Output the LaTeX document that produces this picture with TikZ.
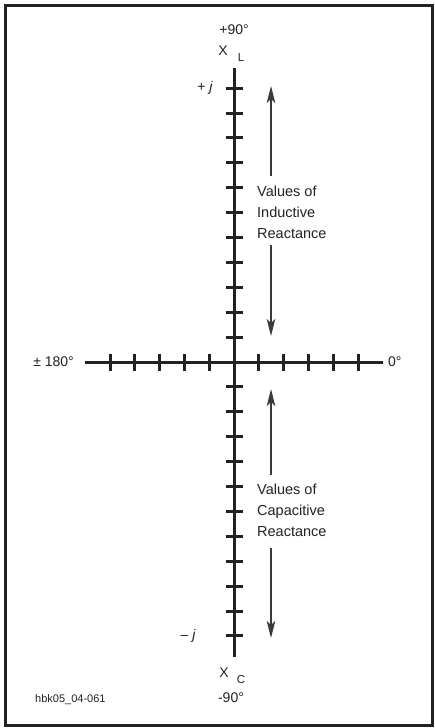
\documentclass[tikz,border=0pt]{standalone}
\usepackage{fontspec}
\setmainfont{Liberation Sans}
\usetikzlibrary{arrows.meta}
\definecolor{axiscol}{HTML}{222222}
\definecolor{arrcol}{HTML}{3A3A3A}
\begin{document}
\begin{tikzpicture}[x=1pt,y=-1pt,
  axisline/.style={line width=3pt,draw=axiscol},
  tickline/.style={line width=3pt,draw=axiscol},
  reactarrow/.style={line width=1.6pt,draw=arrcol,-{Stealth[length=17pt,width=8.5pt,inset=4pt]}},
  lbl/.style={inner sep=0pt,font=\fontsize{14}{16}\selectfont,text=axiscol},
  sublbl/.style={inner sep=0pt,font=\fontsize{11.5}{13}\selectfont,text=axiscol},
  blocklbl/.style={inner sep=0pt,align=left,anchor=west,font=\fontsize{14.5}{21}\selectfont,text=axiscol},
  smalllbl/.style={inner sep=0pt,anchor=west,font=\fontsize{11}{13}\selectfont,text=axiscol}]
\useasboundingbox (0,0) rectangle (435,728);
\fill[white] (0,0) rectangle (435,728);
% frame
\draw[line width=3pt,draw=axiscol] (5,5) rectangle (432,725);
% axes
\coordinate (vtop) at (234,68);
\coordinate (vbot) at (234,657);
\coordinate (hleft) at (85,362);
\coordinate (hright) at (383,362);
\draw[axisline] (vtop) -- (vbot);
\draw[axisline] (hleft) -- (hright);
% ticks
\foreach \k in {1,...,11} {
  \draw[tickline] (226,{362-\k*24.9}) -- (243,{362-\k*24.9});
  \draw[tickline] (226,{362+\k*24.9}) -- (243,{362+\k*24.9});
}
\foreach \k in {1,...,5} {
  \draw[tickline] ({234-\k*24.8},354) -- ({234-\k*24.8},371);
  \draw[tickline] ({234+\k*24.8},354) -- ({234+\k*24.8},371);
}
% labels
\node[lbl] (p90) at (234,30) {+90°};
\node[lbl] (xl) at (223,51) {X};
\node[sublbl] (xlsub) at (241,58) {L};
\node[lbl,anchor=east] (pj) at (213,88) {+ \textit{j}};
\node[lbl,anchor=east] (mj) at (196,636) {– \textit{j}};
\node[lbl,anchor=east] (m180) at (74,362) {± 180°};
\node[lbl,anchor=west] (zero) at (388,362) {0°};
\node[lbl] (xc) at (224,673) {X};
\node[sublbl] (xcsub) at (241,680) {C};
\node[lbl] (m90) at (231,698) {-90°};
\node[smalllbl] (code) at (35,700) {hbk05\_04-061};
% reactance texts
\node[blocklbl] (ind) at (257,212) {Values of\\Inductive\\Reactance};
\node[blocklbl] (cap) at (257,510) {Values of\\Capacitive\\Reactance};
% arrows
\coordinate (ua) at (271,176);
\coordinate (uatip) at (271,86);
\coordinate (ub) at (271,245);
\coordinate (ubtip) at (271,336);
\draw[reactarrow] (ua) -- (uatip);
\draw[reactarrow] (ub) -- (ubtip);
\coordinate (la) at (271,475);
\coordinate (latip) at (271,389);
\coordinate (lb) at (271,548);
\coordinate (lbtip) at (271,638);
\draw[reactarrow] (la) -- (latip);
\draw[reactarrow] (lb) -- (lbtip);
\end{tikzpicture}
\end{document}
